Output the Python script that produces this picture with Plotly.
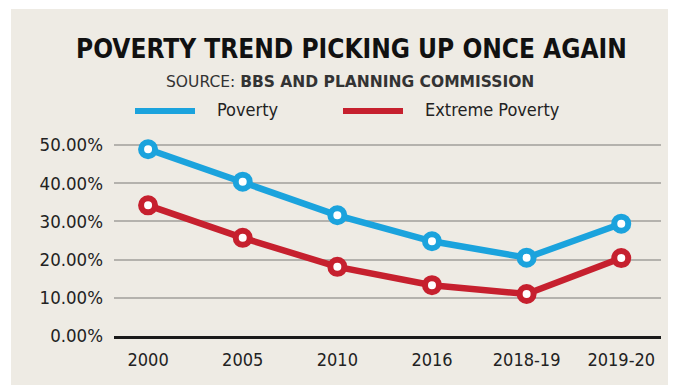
import plotly.graph_objects as go

categories = ["2000", "2005", "2010", "2016", "2018-19", "2019-20"]
poverty = [48.9, 40.4, 31.6, 24.8, 20.5, 29.4]
extreme_poverty = [34.2, 25.7, 18.1, 13.3, 11.0, 20.4]
series_names = ["Poverty", "Extreme Poverty"]
y_ticks = [0, 10, 20, 30, 40, 50]
y_tick_labels = ["0.00%", "10.00%", "20.00%", "30.00%", "40.00%", "50.00%"]

title_text = "POVERTY TREND PICKING UP ONCE AGAIN"
source_text = "SOURCE: <b>BBS AND PLANNING COMMISSION</b>"

BLUE = "#1ba3dd"
RED = "#c6202e"
BEIGE = "#eeebe4"
FONT = "DejaVu Sans Condensed"

# plot-area pixel geometry
W_FIG, H_FIG = 673, 385
L, R, T, B = 114, 661, 140, 336
PW, PH = R - L, B - T
Y_MAX = (B - T) / 3.82


def px(xp):
    return (xp - L) / PW


def py(yp):
    return (B - yp) / PH


fig = go.Figure()
for name, vals, col in [(series_names[0], poverty, BLUE), (series_names[1], extreme_poverty, RED)]:
    fig.add_trace(go.Scatter(
        x=categories, y=vals, name=name, mode="lines+markers",
        line=dict(color=col, width=6.5),
        marker=dict(size=14, color="white", line=dict(color=col, width=6)),
        cliponaxis=False, hoverinfo="skip", showlegend=False,
    ))

shapes = [
    dict(type="rect", xref="paper", yref="paper", x0=px(11), x1=px(668), y0=py(385), y1=py(9),
         fillcolor=BEIGE, line=dict(width=0), layer="below"),
    dict(type="line", xref="paper", yref="paper", x0=px(135), x1=px(195), y0=py(111), y1=py(111),
         line=dict(color=BLUE, width=6)),
    dict(type="line", xref="paper", yref="paper", x0=px(343), x1=px(403), y0=py(111), y1=py(111),
         line=dict(color=RED, width=6)),
]

annotations = [
    dict(text=title_text, xref="paper", yref="paper", x=px(351), y=py(49), xanchor="center", yanchor="middle",
         showarrow=False, font=dict(family=FONT, size=26, color="#111111", weight="bold")),
    dict(text=source_text, xref="paper", yref="paper", x=px(350), y=py(82), xanchor="center", yanchor="middle",
         showarrow=False, font=dict(family="DejaVu Sans", size=15.5, color="#333333")),
    dict(text=series_names[0], xref="paper", yref="paper", x=px(215), y=py(110), xanchor="left", yanchor="middle",
         showarrow=False, font=dict(family=FONT, size=18, color="#222222")),
    dict(text=series_names[1], xref="paper", yref="paper", x=px(423), y=py(110), xanchor="left", yanchor="middle",
         showarrow=False, font=dict(family=FONT, size=18, color="#222222")),
]

fig.update_layout(
    width=W_FIG, height=H_FIG,
    margin=dict(l=L, r=W_FIG - R, t=T, b=H_FIG - B, pad=0),
    paper_bgcolor="white", plot_bgcolor="rgba(0,0,0,0)",
    shapes=shapes, annotations=annotations, showlegend=False,
    xaxis=dict(type="category", range=[-0.36, 5.42], showgrid=False, zeroline=False,
               showline=True, linecolor="#1a1a1a", linewidth=3, ticks="",
               ticklabelstandoff=5,
               tickfont=dict(family=FONT, size=18, color="#222222"), fixedrange=True),
    yaxis=dict(range=[0, Y_MAX], tickmode="array", tickvals=y_ticks, ticktext=y_tick_labels,
               showgrid=True, gridcolor="#b4b2ad", gridwidth=2, zeroline=False,
               showline=False, ticks="", ticklabelstandoff=10,
               tickfont=dict(family=FONT, size=18.5, color="#222222"), fixedrange=True),
)

fig.write_html("out.html", config={"displayModeBar": False})
